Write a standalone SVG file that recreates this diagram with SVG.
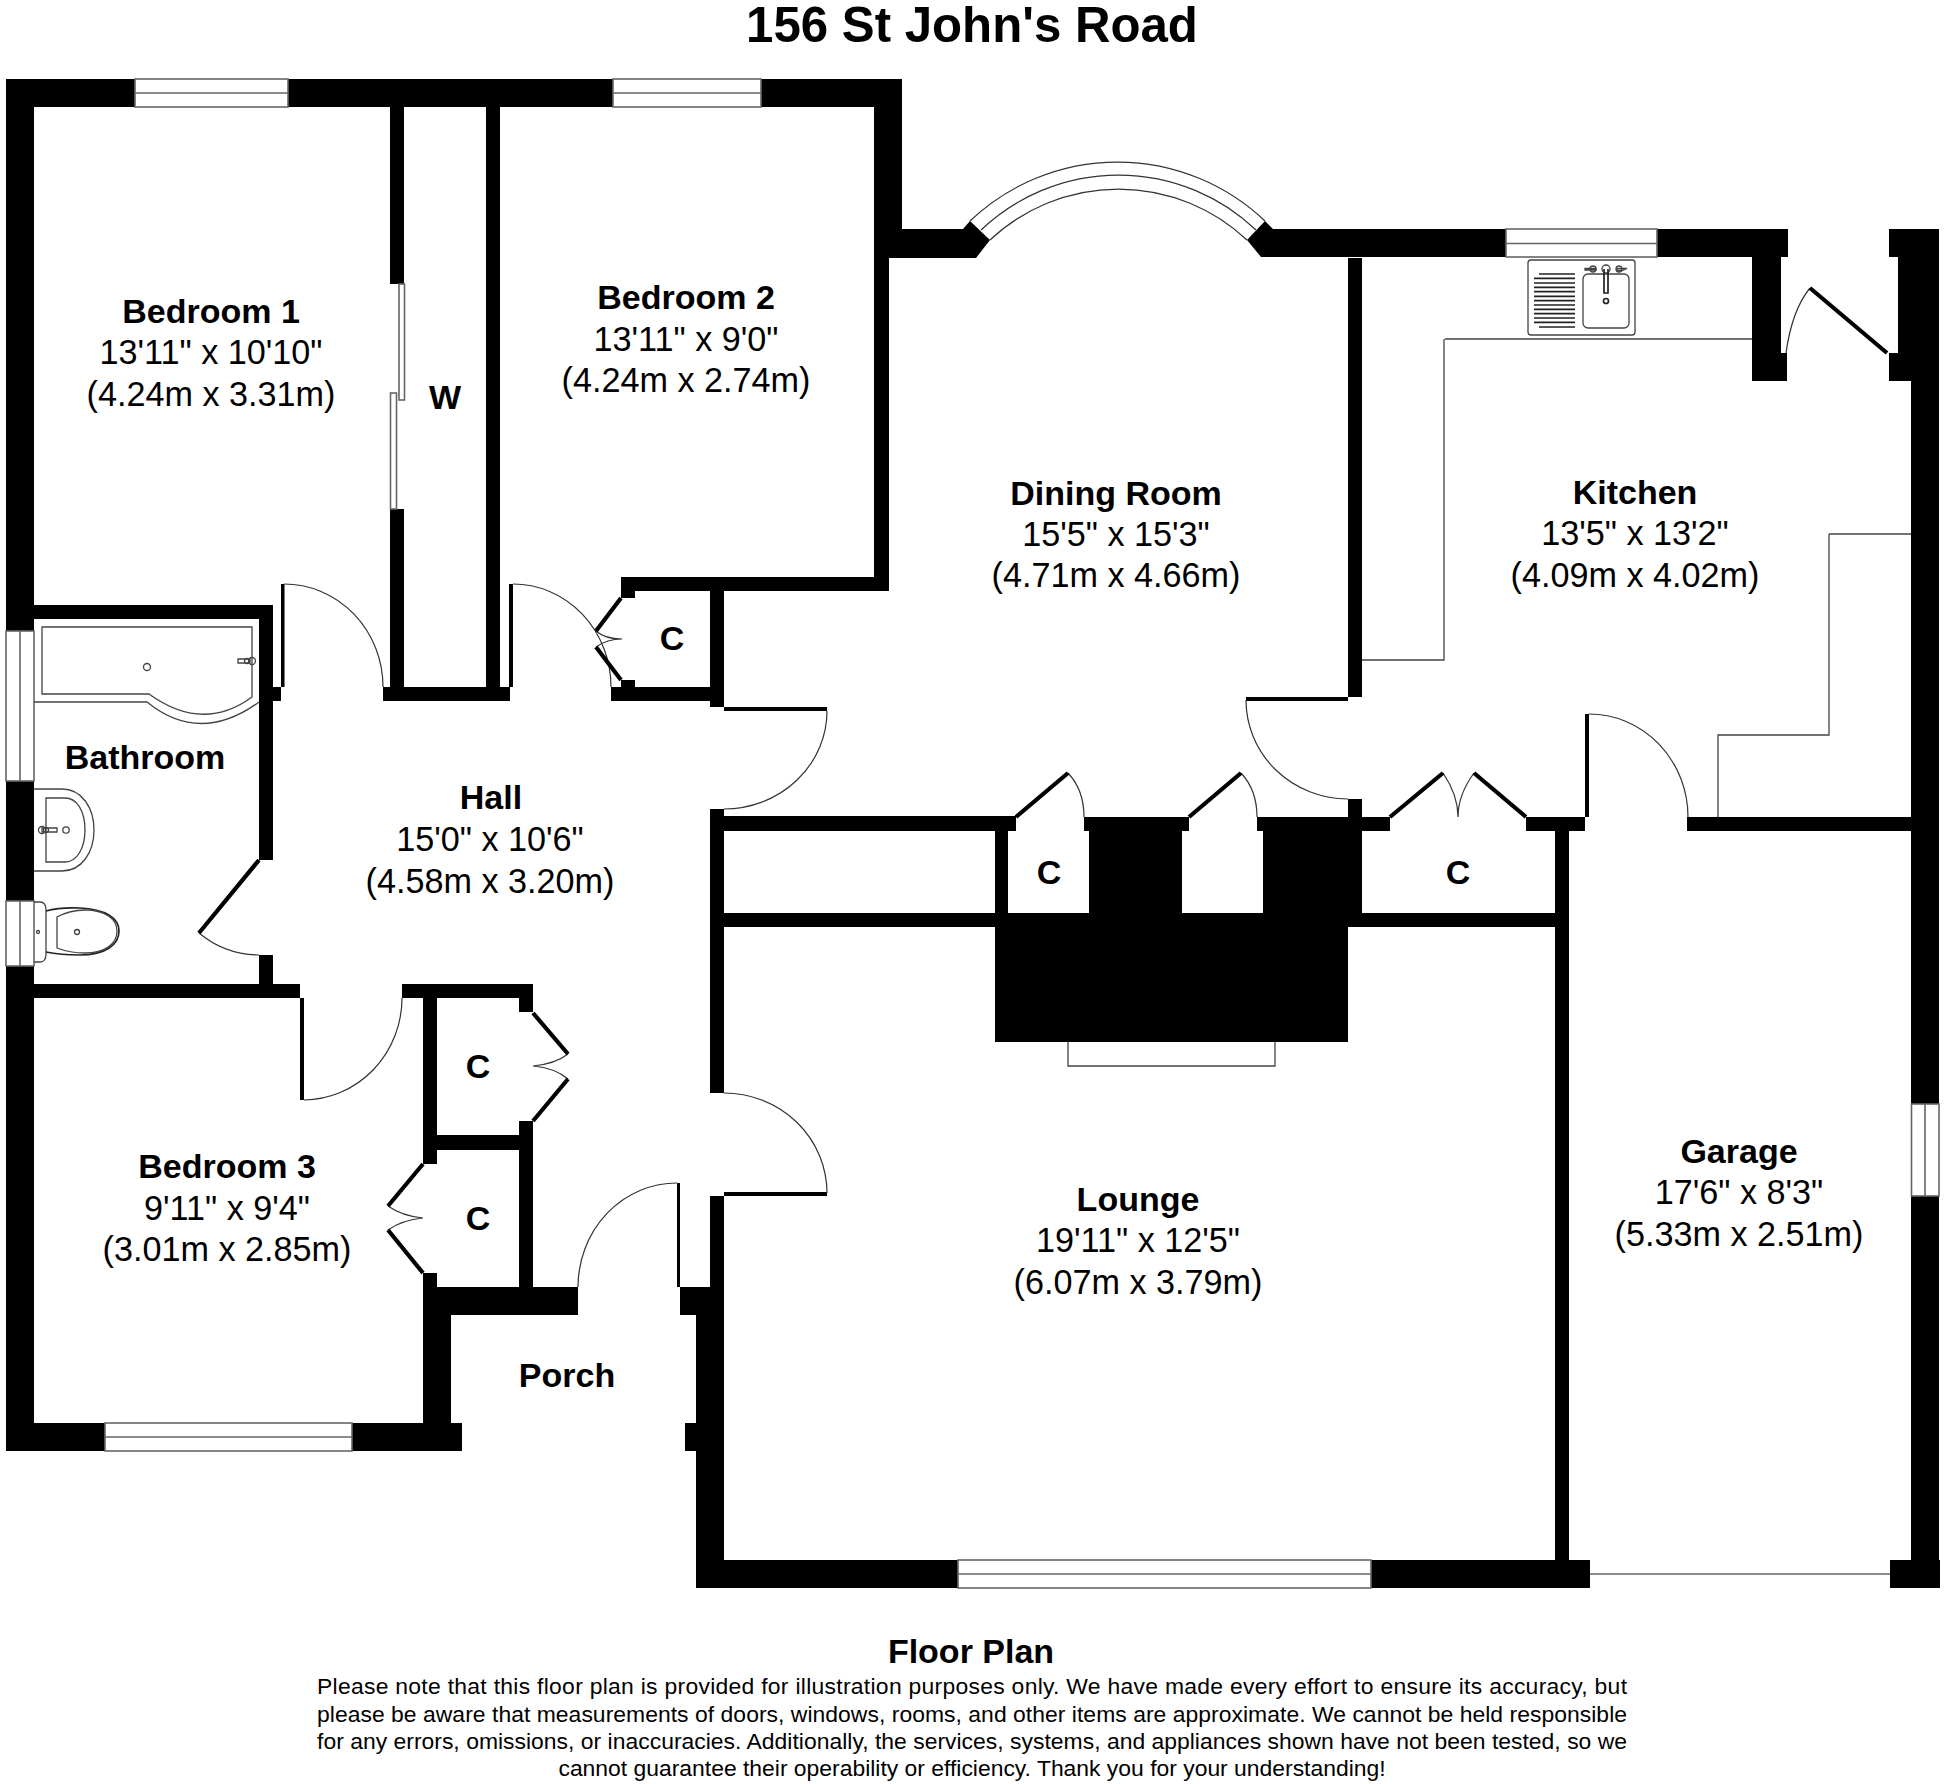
<svg xmlns="http://www.w3.org/2000/svg" width="1944" height="1784" viewBox="0 0 1944 1784">
<style>
text{font-family:"Liberation Sans",Arial,sans-serif;fill:#000;text-anchor:middle}
.t{font-size:49.200px;font-weight:700}
.n{font-size:34px;font-weight:700}
.d{font-size:34.200px}
.f{font-size:22.900px}
.thin{fill:none;stroke:#333;stroke-width:1.2}
.leaf{fill:none;stroke:#000;stroke-width:4.2}
.win{fill:#fff;stroke:#666;stroke-width:1.6}
.fx{fill:none;stroke:#444;stroke-width:1.3}
.fxd{fill:none;stroke:#222;stroke-width:1.7}
</style>
<rect width="1944" height="1784" fill="#fff"/>
<text class="t" x="972" y="42">156 St John's Road</text>
<g id="walls">
<path fill="#000" d="M6 79H135V107H6ZM288 79H613V107H288ZM761 79H902V107H761Z
M6 107H34V631H6ZM6 781H34V901H6ZM6 966H34V1451H6ZM34 1423H105V1451H34ZM352 1423H462V1451H352Z
M390 107H404V284H390ZM390 509H404V701H390ZM486 107H500V701H486ZM383 687H510V701H383Z
M874 107H902V229H874ZM874 229H889V591H874ZM621 577H889V591H621ZM621 591H635V598H621ZM621 680H635V687H621ZM611 687H724V701H611ZM710 591H724V707H710Z
M710 809H724V1093H710ZM710 1196H724V1287H710ZM724 816H1016V831H724ZM724 913H995V927H724ZM995 831H1008V913H995ZM995 913H1348V1042H995Z
M1089 831H1182V927H1089ZM1084 817H1189V831H1084ZM1263 831H1362V927H1263ZM1257 817H1362V831H1257ZM1348 258H1362V697H1348ZM1348 799H1362V831H1348ZM1362 817H1390V831H1362ZM1526 817H1585V831H1526ZM1687 817H1911V831H1687ZM1348 913H1555V927H1348ZM1555 831H1569V1560H1555Z
M696 1315H724V1560H696ZM685 1423H697V1451H685ZM680 1287H724V1315H680ZM696 1560H958V1588H696ZM1371 1560H1590V1588H1371ZM1890 1560H1940V1588H1890Z
M1911 381H1939V1104H1911ZM1911 1196H1939V1560H1911Z
M889 229H963L970 221L990 240L976 258H889ZM1247 240L1265 221L1273 229H1506V257H1261ZM1657 229H1788V257H1657ZM1752 257H1781V353H1752ZM1752 353H1787V381H1752ZM1889 229H1939V257H1889ZM1898 257H1939V353H1898ZM1889 353H1939V381H1889Z
M34 605H273V619H34ZM259 619H273V860H259ZM259 687H281V701H259ZM259 955H273V984H259ZM34 984H300V998H34Z
M402 984H533V998H402ZM519 998H533V1012H519ZM423 998H437V1164H423ZM437 1135H519V1150H437ZM519 1121H533V1287H519ZM423 1273H437V1287H423ZM423 1287H578V1315H423ZM423 1315H451V1423H423Z"/>
</g>
<g id="windows">
<rect class="win" x="135" y="79" width="153" height="28"/><path class="win" d="M135 93H288"/>
<rect class="win" x="613" y="79" width="148" height="28"/><path class="win" d="M613 93H761"/>
<rect class="win" x="1506" y="229" width="151" height="28"/><path class="win" d="M1506 243.500H1657"/>
<rect class="win" x="6" y="631" width="28" height="150"/><path class="win" d="M20 631V781"/>
<rect class="win" x="6" y="901" width="28" height="65"/><path class="win" d="M20 901V966"/>
<rect class="win" x="105" y="1423" width="247" height="28"/><path class="win" d="M105 1437H352"/>
<rect class="win" x="958" y="1560" width="413" height="28"/><path class="win" d="M958 1574H1371"/>
<rect class="win" x="1911.500" y="1104" width="27.500" height="92"/><path class="win" d="M1925 1104V1196"/>
<path class="win" d="M1590 1574H1890"/>
<path class="thin" d="M970 221A214 214 0 0 1 1265 221M981 230A199.500 199.500 0 0 1 1256 230M990 240A187.500 187.500 0 0 1 1247 240"/>
<rect class="win" x="399" y="284" width="5.500" height="116"/>
<rect class="win" x="390.500" y="393" width="6" height="116"/>
</g>
<g id="doors">
<path fill="#000" d="M281 584H284.500V687H281ZM509 584H513V687H509ZM300 998H304V1100H300ZM677 1183H680V1287H677ZM1585 714H1589V817H1585ZM724 707H827V711H724ZM724 1192H827V1196H724ZM1246 697H1348V701H1246Z"/>
<path class="thin" d="M284 584A99 103 0 0 1 383 687M513 584A98 103 0 0 1 611 687M827 711A103 98 0 0 1 724 809M402 998A99 102 0 0 1 304 1100M724 1093A103 100 0 0 1 827 1193M578 1287A99 104 0 0 1 677 1183M1246 700A102 99 0 0 0 1348 799M1589 714A99 103 0 0 1 1688 817M199 933A95 95 0 0 0 259 955"/>
<path class="thin" d="M1068 773Q1084 790 1084 817M1241 773Q1257 790 1257 817M1443 773Q1458 795 1458 817M1474 773Q1458 795 1458 817M1786 353Q1792 310 1810 288M568 1054Q555 1064 533 1066M568 1079Q555 1068 533 1066M388 1206Q402 1216 423 1218M388 1230Q402 1220 423 1218M596 631Q605 639 622 639M596 647Q607 639 622 639"/>
<path class="leaf" d="M259 860L199 933M1016 817L1068 773M1189 817L1241 773M1390 817L1443 773M1526 817L1474 773M1810 288L1887 353M533 1013L568 1054M533 1121L568 1079M423 1164L388 1206M423 1273L388 1230M621 598L596 631M621 680L596 647"/>
</g>
<g id="fixtures">
<path class="fx" d="M1068 1042V1066H1275V1042"/>
<path class="fx" d="M1445 339H1752M1444 339V660H1362M1829 534H1911M1829 534V735H1718V817"/>
<rect class="fx" x="1528" y="260" width="107" height="75" rx="3"/>
<path class="fxd" d="M1539 274H1575M1534 278.400H1575M1534 283H1575M1534 287.300H1575M1534 291.700H1575M1534 296.300H1575M1534 300.700H1575M1534 305H1575M1534 309.300H1575M1534 313.700H1575M1534 318H1575M1534 322.300H1575M1539 327H1575"/>
<rect class="fx" x="1583" y="274" width="46" height="54" rx="5"/>
<circle class="fx" cx="1606" cy="269" r="4"/><path class="fxd" d="M1604 269V293H1608V269"/><circle class="fxd" cx="1606" cy="301" r="2.500"/>
<circle class="fx" cx="1593" cy="269" r="3"/><path class="fx" d="M1585 268.500H1596V270H1585Z"/>
<circle class="fx" cx="1619" cy="269" r="3"/><path class="fx" d="M1617 268.500H1627L1622 270.500H1617Z"/>
<path class="fx" d="M42 627H252V697Q203 733 149 694H42Z"/>
<path class="fx" d="M34 702H147Q200 745 259 702"/>
<circle class="fx" cx="147" cy="667" r="3.500"/>
<circle class="fx" cx="252" cy="661" r="3.500"/><circle class="fx" cx="247" cy="661" r="2.500"/><path class="fx" d="M238 659H250V663H238Z"/>
<path class="fx" d="M34 789H62C82 789 94 808 94 830C94 852 82 871 62 871H34"/>
<path class="fx" d="M46 798H65C77 798 85 811 85 830C85 848 77 862 65 862H46Z"/>
<circle class="fx" cx="66" cy="830" r="3.200"/>
<circle class="fx" cx="42" cy="830" r="3.500"/><circle class="fx" cx="46" cy="830" r="2.500"/><path class="fx" d="M42 828H57V832H42Z"/>
<path class="fx" d="M34 902H40Q46 902 46 910V954Q46 962 40 962H34"/>
<path class="fxd" d="M46 911Q60 907 80 908C105 909 119 918 119 931C119 945 105 955 80 955Q60 955 46 952"/>
<path class="fx" d="M57 917Q70 910 85 910C105 910 117 919 117 931C117 944 105 953 85 953Q70 953 57 948Z"/>
<circle class="fx" cx="77" cy="932" r="2.500"/><circle class="fx" cx="38" cy="932" r="1.500"/>
</g>
<g id="bedroom1"><text class="n" x="211" y="323">Bedroom 1</text><text class="d" x="211" y="364">13'11" x 10'10"</text><text class="d" x="211" y="406">(4.24m x 3.31m)</text></g>
<g id="wardrobe"><text class="n" x="445" y="409">W</text></g>
<g id="bedroom2"><text class="n" x="686" y="309">Bedroom 2</text><text class="d" x="686" y="351">13'11" x 9'0"</text><text class="d" x="686" y="392">(4.24m x 2.74m)</text></g>
<g id="dining"><text class="n" x="1116" y="505">Dining Room</text><text class="d" x="1116" y="546">15'5" x 15'3"</text><text class="d" x="1116" y="587">(4.71m x 4.66m)</text></g>
<g id="kitchen"><text class="n" x="1635" y="504">Kitchen</text><text class="d" x="1635" y="545">13'5" x 13'2"</text><text class="d" x="1635" y="587">(4.09m x 4.02m)</text></g>
<g id="bathroom"><text class="n" x="145" y="769">Bathroom</text></g>
<g id="hall"><text class="n" x="491" y="809">Hall</text><text class="d" x="490" y="851">15'0" x 10'6"</text><text class="d" x="490" y="893">(4.58m x 3.20m)</text></g>
<g id="bedroom3"><text class="n" x="227" y="1178">Bedroom 3</text><text class="d" x="227" y="1220">9'11" x 9'4"</text><text class="d" x="227" y="1261">(3.01m x 2.85m)</text></g>
<g id="porch"><text class="n" x="567" y="1387">Porch</text></g>
<g id="lounge"><text class="n" x="1138" y="1211">Lounge</text><text class="d" x="1138" y="1252">19'11" x 12'5"</text><text class="d" x="1138" y="1294">(6.07m x 3.79m)</text></g>
<g id="garage"><text class="n" x="1739" y="1163">Garage</text><text class="d" x="1739" y="1204">17'6" x 8'3"</text><text class="d" x="1739" y="1246">(5.33m x 2.51m)</text></g>
<g id="cupboards"><text class="n" x="672" y="650">C</text><text class="n" x="1049" y="884">C</text><text class="n" x="1458" y="884">C</text><text class="n" x="478" y="1078">C</text><text class="n" x="478" y="1230">C</text></g>
<g id="footer">
<text class="n" x="971" y="1663">Floor Plan</text>
<text class="f" x="972" y="1694" textLength="1310">Please note that this floor plan is provided for illustration purposes only. We have made every effort to ensure its accuracy, but</text>
<text class="f" x="972" y="1722" textLength="1310">please be aware that measurements of doors, windows, rooms, and other items are approximate. We cannot be held responsible</text>
<text class="f" x="972" y="1749" textLength="1310">for any errors, omissions, or inaccuracies. Additionally, the services, systems, and appliances shown have not been tested, so we</text>
<text class="f" x="972" y="1776">cannot guarantee their operability or efficiency. Thank you for your understanding!</text>
</g>
</svg>
